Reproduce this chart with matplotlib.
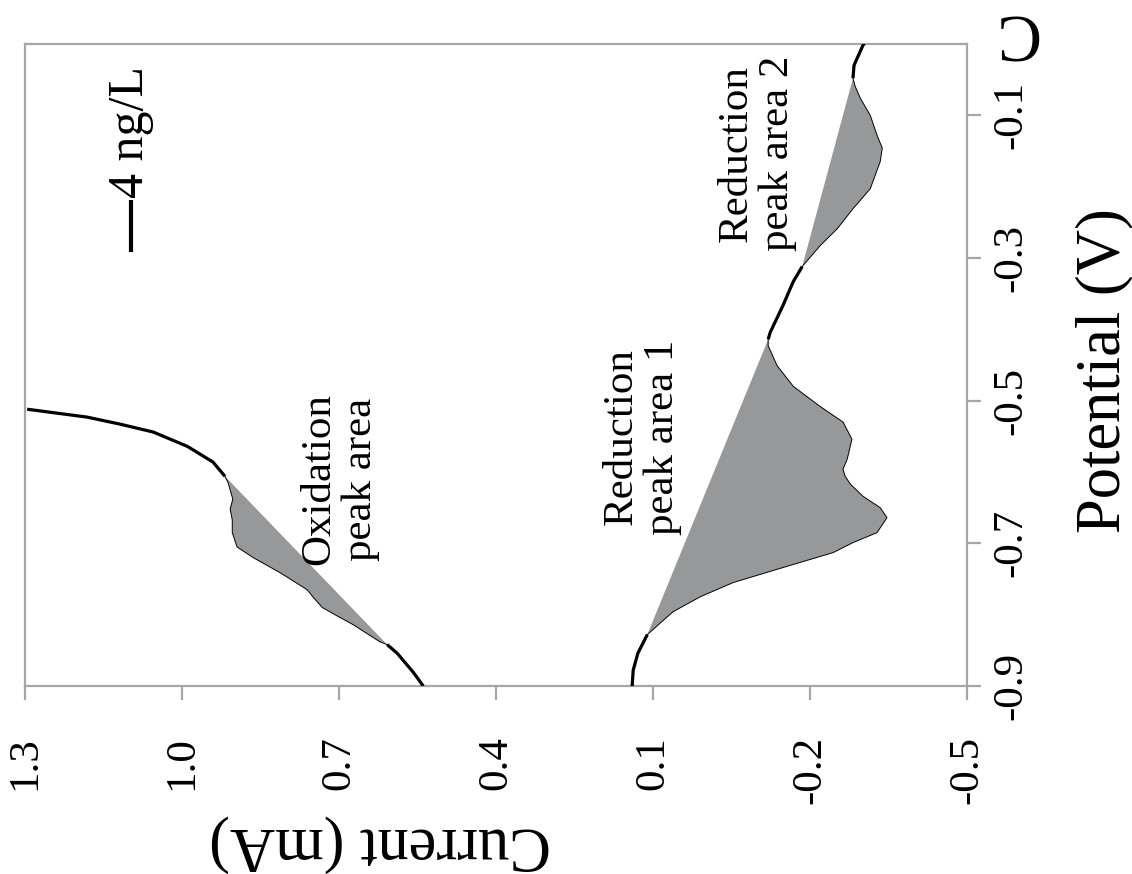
#!/usr/bin/env python3
# Woltamperogram (4 ng/L) z zacieniowanymi polami pików, układ obrócony o 90 stopni.
import numpy as np
import matplotlib.pyplot as plt

plt.rcParams["font.family"] = ["Liberation Serif", "DejaVu Serif"]

# Gałąź utleniania: prąd (mA) i potencjał (V)
ox_current = [0.539, 0.559, 0.589, 0.608, 0.622, 0.673, 0.698, 0.732, 0.750, 0.761,
              0.813, 0.864, 0.895, 0.904, 0.904, 0.908, 0.903, 0.912, 0.918, 0.941,
              0.990, 1.055, 1.118, 1.182, 1.296]
ox_potential = [-0.900, -0.880, -0.854, -0.842, -0.838, -0.814, -0.804, -0.790, -0.775, -0.765,
                -0.741, -0.720, -0.705, -0.685, -0.667, -0.652, -0.638, -0.615, -0.606, -0.586,
                -0.564, -0.544, -0.533, -0.523, -0.512]

# Gałąź redukcji
red_current = [0.140, 0.138, 0.129, 0.111, 0.062, 0.010, -0.053, -0.148, -0.244, -0.282,
               -0.328, -0.347, -0.334, -0.301, -0.277, -0.267, -0.263, -0.271, -0.280, -0.263,
               -0.219, -0.168, -0.137, -0.120, -0.120, -0.124, -0.148, -0.168, -0.185, -0.219,
               -0.252, -0.282, -0.315, -0.334, -0.338, -0.328, -0.315, -0.296, -0.286, -0.282,
               -0.284, -0.290, -0.301, -0.311]
red_potential = [-0.901, -0.878, -0.854, -0.828, -0.796, -0.775, -0.755, -0.734, -0.713, -0.699,
                 -0.685, -0.664, -0.650, -0.634, -0.617, -0.606, -0.596, -0.582, -0.554, -0.530,
                 -0.508, -0.480, -0.451, -0.423, -0.414, -0.404, -0.367, -0.333, -0.312, -0.283,
                 -0.259, -0.231, -0.203, -0.165, -0.146, -0.128, -0.100, -0.076, -0.059, -0.048,
                 -0.030, -0.020, -0.002, 0.008]

# Granice pól pików (potencjał początku i końca cięciwy)
ox_peaks = [(-0.842, -0.606)]
red_peaks = [(-0.828, -0.414), (-0.312, -0.048)]

current_ticks = [1.3, 1.0, 0.7, 0.4, 0.1, -0.2, -0.5]
potential_ticks = [-0.9, -0.7, -0.5, -0.3, -0.1]

FILL = "#979899"
AXIS_GRAY = "#a6a6a6"


def draw_branch(ax, cur, pot, peaks):
    # Gruba linia poza pikami, cienka krawędź i szare pole w obrębie piku.
    cur = np.asarray(cur)
    pot = np.asarray(pot)
    cuts = [0]
    for lo, hi in peaks:
        i0 = int(np.argmin(np.abs(pot - lo)))
        i1 = int(np.argmin(np.abs(pot - hi)))
        cuts += [i0, i1]
        ax.fill(cur[i0:i1 + 1], pot[i0:i1 + 1], color=FILL, lw=0, zorder=2)
        ax.plot(cur[i0:i1 + 1], pot[i0:i1 + 1], color="black", lw=0.7, zorder=3)
    cuts.append(len(pot) - 1)
    for a, b in zip(cuts[0::2], cuts[1::2]):
        ax.plot(cur[a:b + 1], pot[a:b + 1], color="black", lw=2.3,
                solid_capstyle="butt", zorder=3)


fig = plt.figure(figsize=(11.32, 8.74), dpi=100)
ax = fig.add_axes([0.0221, 0.2151, 0.8322, 0.7346])

draw_branch(ax, ox_current, ox_potential, ox_peaks)
draw_branch(ax, red_current, red_potential, red_peaks)

ax.set_xlim(1.3, -0.5)
ax.set_ylim(-0.9, 0.0)
ax.set_xticks(current_ticks)
ax.set_xticklabels([f"{v:.1f}" for v in current_ticks])
ax.set_yticks(potential_ticks)
ax.set_yticklabels([f"{v:.1f}" for v in potential_ticks])
ax.yaxis.tick_right()

for sp in ax.spines.values():
    sp.set_color(AXIS_GRAY)
    sp.set_linewidth(1.6)

ax.tick_params(axis="both", direction="out", length=10, width=1.6, color=AXIS_GRAY,
               labelsize=31, labelcolor="black")
ax.tick_params(axis="x", pad=26, labelrotation=90)
ax.tick_params(axis="y", pad=8, labelrotation=90)
for lab in ax.get_yticklabels():
    lab.set_va("center")
    lab.set_ha("left")

ax.set_xlabel("Current (mA)", fontsize=45, rotation=180, va="center", ha="center")
ax.xaxis.set_label_coords(0.377, -0.245)
ax.yaxis.set_label_position("right")
ax.set_ylabel("Potential (V)", fontsize=45, rotation=90, va="center", ha="center")
ax.yaxis.set_label_coords(1.146, 0.492)

# Legenda: krótki odcinek i opis, obrócone jak cały wykres
ax.plot([0.1125, 0.1125], [0.676, 0.757], transform=ax.transAxes, color="black",
        lw=3, solid_capstyle="butt", clip_on=False)
ax.text(0.1125, 0.760, "4 ng/L", transform=ax.transAxes, rotation=90,
        ha="center", va="bottom", fontsize=36)

# Opisy pól pików
note_kw = dict(rotation=90, ha="center", va="center", fontsize=31,
               multialignment="center", linespacing=1.12)
ax.text(0.698, -0.610, "Oxidation\npeak area", **note_kw)
ax.text(0.121, -0.551, "Reduction\npeak area 1", **note_kw)
ax.text(-0.099, -0.153, "Reduction\npeak area 2", **note_kw)

# Fragment odwróconego napisu przy górnej krawędzi
fig.text(0.8965, 0.965, "C", rotation=180, ha="center", va="center", fontsize=48)

fig.savefig("out.png", dpi=100)
